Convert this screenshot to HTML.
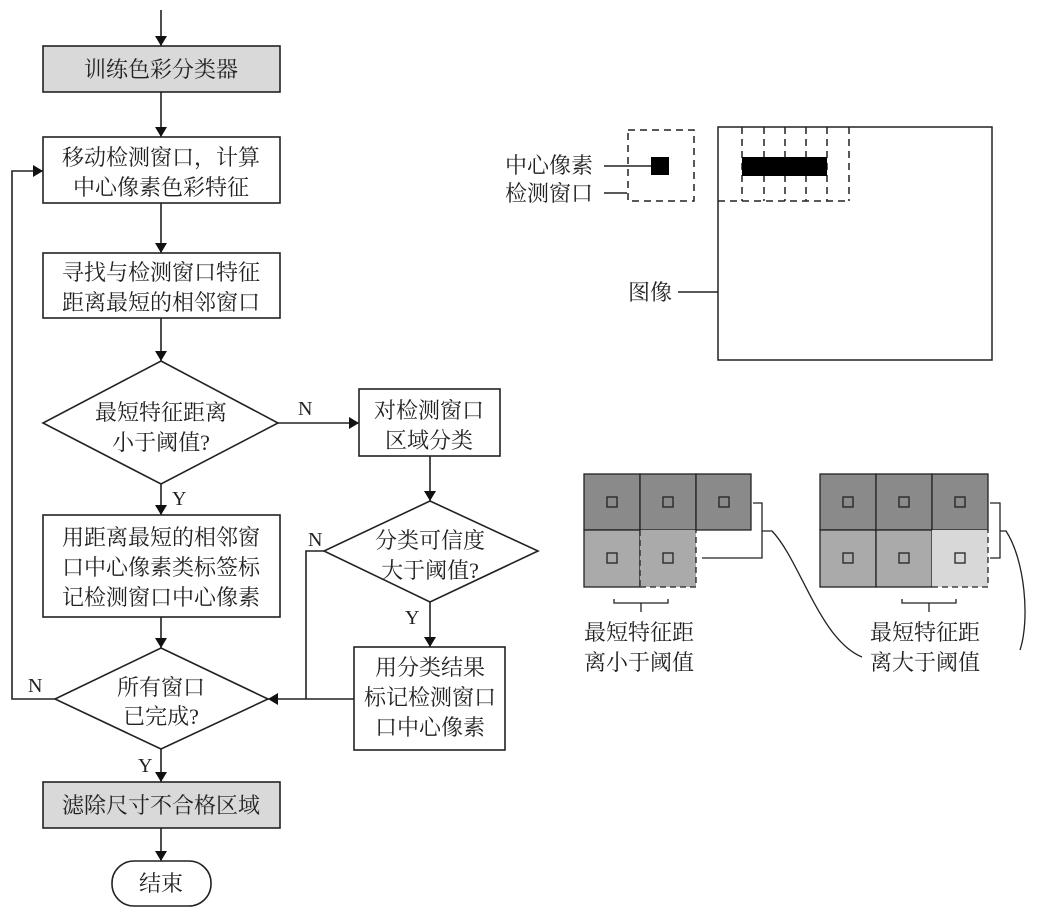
<!DOCTYPE html>
<html><head><meta charset="utf-8"><style>
html,body{margin:0;padding:0;background:#fff}
svg text{font-family:"Liberation Serif","Noto Serif CJK SC","Noto Sans CJK SC",serif;font-size:22px;fill:#222}
.l{font-family:"Liberation Serif",serif;font-size:20px}
</style></head><body>
<svg width="1038" height="915" viewBox="0 0 1038 915" xmlns="http://www.w3.org/2000/svg">
<defs><marker id="a" markerWidth="10" markerHeight="14" refX="10" refY="7" orient="auto" markerUnits="userSpaceOnUse"><path d="M0,1 L10,7 L0,13 z" fill="#111"/></marker></defs>
<g stroke="#222" stroke-width="1.6" fill="none">
<line x1="161" y1="10" x2="161" y2="46" marker-end="url(#a)"/>
<rect x="43" y="46" width="237" height="46" fill="#d9d9d9"/>
<line x1="161" y1="92" x2="161" y2="137" marker-end="url(#a)"/>
<rect x="43" y="137" width="237" height="66" fill="#fff"/>
<line x1="161" y1="203" x2="161" y2="253" marker-end="url(#a)"/>
<rect x="43" y="253" width="237" height="65" fill="#fff"/>
<line x1="161" y1="318" x2="161" y2="361" marker-end="url(#a)"/>
<polygon points="161,361 278,423 161,484 43,423" fill="#fff"/>
<line x1="278" y1="423" x2="359" y2="423" marker-end="url(#a)"/>
<rect x="359" y="389" width="141" height="67" fill="#fff"/>
<line x1="161" y1="484" x2="161" y2="515" marker-end="url(#a)"/>
<rect x="43" y="515" width="237" height="102" fill="#fff"/>
<line x1="161" y1="617" x2="161" y2="648" marker-end="url(#a)"/>
<polygon points="161,648 268,699 161,749 55,699" fill="#fff"/>
<polyline points="55,699 12,699 12,171 43,171" marker-end="url(#a)"/>
<line x1="161" y1="749" x2="161" y2="782" marker-end="url(#a)"/>
<rect x="43" y="782" width="237" height="46" fill="#d9d9d9"/>
<line x1="161" y1="828" x2="161" y2="861" marker-end="url(#a)"/>
<rect x="112" y="861" width="99" height="45" rx="22" fill="#fff"/>
<line x1="430" y1="456" x2="430" y2="501" marker-end="url(#a)"/>
<polygon points="430,501 538,551 430,602 324,551" fill="#fff"/>
<polyline points="324,551 306,551 306,699"/>
<line x1="354" y1="699" x2="268" y2="699" marker-end="url(#a)"/>
<line x1="430" y1="602" x2="430" y2="647" marker-end="url(#a)"/>
<rect x="354" y="647" width="151" height="103" fill="#fff"/>
</g>
<g text-anchor="middle">
<text x="161" y="77">训练色彩分类器</text>
<text x="161" y="165">移动检测窗口，计算</text>
<text x="161" y="195">中心像素色彩特征</text>
<text x="161" y="280">寻找与检测窗口特征</text>
<text x="161" y="310">距离最短的相邻窗口</text>
<text x="161" y="420">最短特征距离</text>
<text x="161" y="450">小于阈值?</text>
<text x="429" y="418">对检测窗口</text>
<text x="429" y="448">区域分类</text>
<text x="161" y="545">用距离最短的相邻窗</text>
<text x="161" y="575">口中心像素类标签标</text>
<text x="161" y="605">记检测窗口中心像素</text>
<text x="430" y="548">分类可信度</text>
<text x="430" y="578">大于阈值?</text>
<text x="161" y="695">所有窗口</text>
<text x="161" y="724">已完成?</text>
<text x="430" y="675">用分类结果</text>
<text x="430" y="705">标记检测窗口</text>
<text x="430" y="735">口中心像素</text>
<text x="161" y="813">滤除尺寸不合格区域</text>
<text x="161" y="891">结束</text>
</g>
<text class="l" x="298" y="415">N</text>
<text class="l" x="172" y="505">Y</text>
<text class="l" x="308" y="546">N</text>
<text class="l" x="405" y="624">Y</text>
<text class="l" x="28" y="692">N</text>
<text class="l" x="138" y="772">Y</text>
<!-- top right -->
<g stroke="#222" stroke-width="1.5" fill="none">
<rect x="718" y="127" width="274" height="233"/>
<rect x="628" y="130" width="66" height="71" stroke-dasharray="7,5"/>
<line x1="604" y1="166" x2="651" y2="166"/>
<line x1="604" y1="193" x2="627" y2="193"/>
<line x1="678" y1="292" x2="718" y2="292"/>
<g stroke-dasharray="7,5">
<line x1="742" y1="127" x2="742" y2="201"/><line x1="764" y1="127" x2="764" y2="201"/>
<line x1="785" y1="127" x2="785" y2="201"/><line x1="806" y1="127" x2="806" y2="201"/>
<line x1="827" y1="127" x2="827" y2="201"/><line x1="849" y1="127" x2="849" y2="201"/>
<line x1="718" y1="201" x2="849" y2="201"/>
</g>
</g>
<rect x="651" y="157" width="18" height="18" fill="#000"/>
<rect x="742" y="157" width="85" height="19" fill="#000"/>
<text x="505" y="173">中心像素</text>
<text x="505" y="201">检测窗口</text>
<text x="628" y="300">图像</text>
<!-- bottom grids -->
<g stroke="#222" stroke-width="1.3">
<rect x="584" y="474" width="56" height="56" fill="#8a8a8a"/>
<rect x="640" y="474" width="56" height="56" fill="#8a8a8a"/>
<rect x="696" y="474" width="55" height="56" fill="#8a8a8a"/>
<rect x="584" y="530" width="56" height="57" fill="#aaa"/>
<rect x="640" y="530" width="56" height="57" fill="#aaa" stroke="none"/>
<path d="M640,587 H696 V530" fill="none" stroke-dasharray="6,4"/>
<line x1="640" y1="530" x2="640" y2="587" stroke-dasharray="6,4"/>
<rect x="820" y="474" width="56" height="56" fill="#8a8a8a"/>
<rect x="876" y="474" width="56" height="56" fill="#8a8a8a"/>
<rect x="932" y="474" width="56" height="56" fill="#8a8a8a"/>
<rect x="820" y="530" width="56" height="57" fill="#aaa"/>
<rect x="876" y="530" width="56" height="57" fill="#aaa"/>
<rect x="932" y="530" width="56" height="57" fill="#d8d8d8" stroke="none"/>
<path d="M932,587 H988 V530" fill="none" stroke-dasharray="6,4"/>
</g>
<g stroke="#222" stroke-width="1.3" fill="none">
<rect x="607" y="497" width="10" height="10"/><rect x="663" y="497" width="10" height="10"/><rect x="719" y="497" width="10" height="10"/>
<rect x="607" y="553" width="10" height="10"/><rect x="663" y="553" width="10" height="10"/>
<rect x="843" y="497" width="10" height="10"/><rect x="899" y="497" width="10" height="10"/><rect x="955" y="497" width="10" height="10"/>
<rect x="843" y="553" width="10" height="10"/><rect x="899" y="553" width="10" height="10"/><rect x="955" y="553" width="10" height="10"/>
<polyline points="753,503 762,503 762,558 702,558"/>
<path d="M762,531 H772 C800,560 820,640 862,657"/>
<polyline points="614,599 614,603 668,603 668,599"/><line x1="641" y1="603" x2="641" y2="612"/>
<polyline points="990,503 1000,503 1000,558 990,558"/>
<path d="M1000,531 H1006 C1025,560 1030,620 1020,650"/>
<polyline points="902,599 902,603 956,603 956,599"/><line x1="929" y1="603" x2="929" y2="612"/>
</g>
<text x="584" y="640">最短特征距</text>
<text x="584" y="670">离小于阈值</text>
<text x="870" y="640">最短特征距</text>
<text x="870" y="670">离大于阈值</text>
</svg>
</body></html>
